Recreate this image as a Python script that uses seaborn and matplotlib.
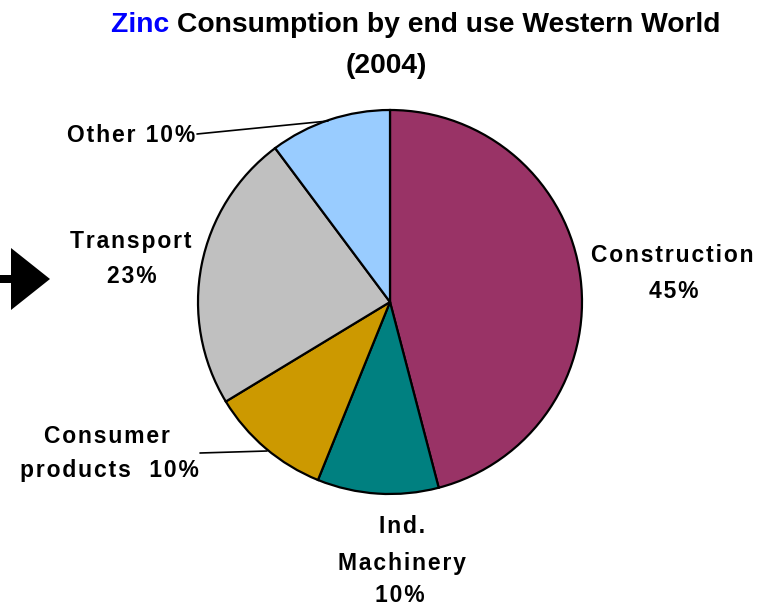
import matplotlib
matplotlib.use("Agg")
import matplotlib.pyplot as plt
from matplotlib.patches import FancyArrow
import seaborn as sns

# end-use shares as shown on the chart (clockwise from 12 o'clock)
categories = ["Construction", "Ind. Machinery", "Consumer products", "Transport", "Other"]
shares = [45, 10, 10, 23, 10]
slice_colors = ["#993366", "#008080", "#CC9900", "#C0C0C0", "#99CCFF"]

sns.set_style("white")
plt.rcParams["font.family"] = ["Liberation Sans", "DejaVu Sans"]

W, H = 771, 609
fig = plt.figure(figsize=(W / 100, H / 100), dpi=100)
ax = fig.add_axes([0, 0, 1, 1])


def Y(y):
    # pixel row (from top) -> data y
    return H - y


def spaced(s):
    # the labels in the original are letter-spaced; hair spaces mimic that
    return "\u200a".join(s)


ax.pie(shares, colors=slice_colors, startangle=90, counterclock=False,
       center=(390, Y(302)), radius=192, frame=True,
       wedgeprops=dict(edgecolor="black", linewidth=1.6))
ax.set_xlim(0, W)
ax.set_ylim(0, H)
ax.set_aspect("equal")
ax.axis("off")

lab = dict(fontsize=16.5, fontweight="bold", color="black", ha="center", va="baseline")

# Construction
ax.text(672, Y(262), spaced("Construction"), **lab)
ax.text(674, Y(298), spaced(f"{shares[0]}%"), **lab)
# Ind. Machinery
ax.text(402, Y(533), spaced("Ind."), **lab)
ax.text(402, Y(570), spaced("Machinery"), **lab)
ax.text(400, Y(602), spaced(f"{shares[1]}%"), **lab)
# Consumer products
ax.text(107, Y(443), spaced("Consumer"), **lab)
ax.text(109, Y(477), spaced(f"products  {shares[2]}%"), **lab)
ax.plot([200, 267], [Y(453), Y(451)], color="black", lw=1.2)
# Transport
ax.text(131, Y(248), spaced("Transport"), **lab)
ax.text(132, Y(283), spaced(f"{shares[3]}%"), **lab)
# Other
ax.text(131, Y(142), spaced(f"Other {shares[4]}%"), **lab)
ax.plot([197, 328], [Y(134), Y(121)], color="black", lw=1.2)

# black arrow on the left edge
ax.add_patch(FancyArrow(0, Y(279), 50, 0, width=8, head_width=62, head_length=39,
                        length_includes_head=True, color="black", lw=0))

# title: "Zinc" in blue, rest in black
t1 = ax.text(111, Y(32), "Zinc ", fontsize=20.3, fontweight="bold",
             color="#0000FF", ha="left", va="baseline")
ax.annotate("Consumption by end use Western World", xy=(1, 0), xycoords=t1,
            xytext=(0, 0), textcoords="offset points", fontsize=20.3,
            fontweight="bold", color="black", ha="left", va="bottom")
ax.text(386, Y(73), "(2004)", fontsize=20.3, fontweight="bold",
        color="black", ha="center", va="baseline")

fig.savefig("out.png", dpi=100, facecolor="white")
